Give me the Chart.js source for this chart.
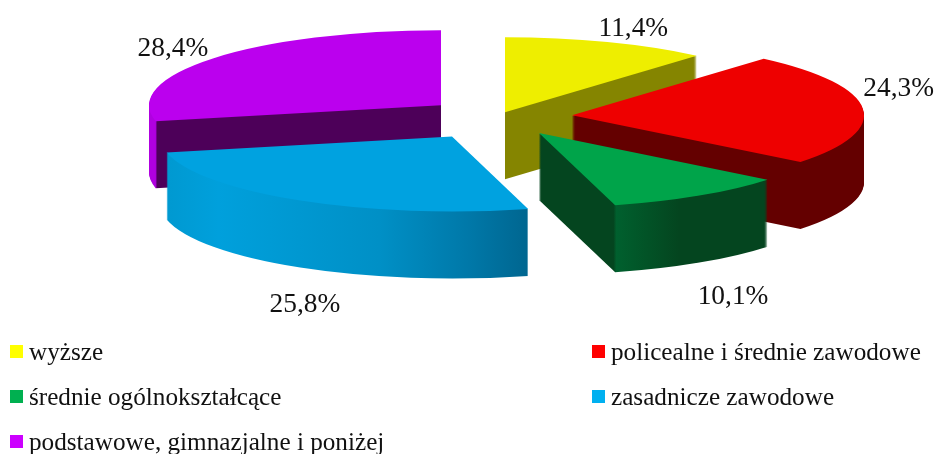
<!DOCTYPE html>
<html lang="pl">
<head>
<meta charset="utf-8">
<title>Wykształcenie</title>
<style>html,body{margin:0;padding:0;background:#fff}canvas{display:block}</style>
<script src="https://cdn.jsdelivr.net/npm/chart.js@4/dist/chart.umd.min.js"></script>
</head>
<body>
<canvas id="c" width="936" height="454"></canvas>
<script>
const categories = ['wyższe','policealne i średnie zawodowe','średnie ogólnokształcące','zasadnicze zawodowe','podstawowe, gimnazjalne i poniżej'];
const shares = [11.4,24.3,10.1,25.8,28.4];
const explode = [0.068,0.254,0.254,0.305,0.25];
const topColors = ['#eeee00','#ee0000','#00a44a','#00a2e0','#bb00ee'];
const legendColors = ['#ffff00','#ff0000','#00b050','#00b0f0','#cc00ff'];
// wall shading, stops given as position across the pie radius (-1..1)
const wallStops = [
  [[-1,'#858500'],[1,'#858500']],
  [[-1,'#640000'],[1,'#640000']],
  [[-1,'#04451f'],[0.255,'#04451f'],[0.265,'#00602e'],[0.48,'#04451f'],[1,'#04451f']],
  [[-1,'#0098cf'],[-0.8,'#00a0dc'],[-0.25,'#0090c6'],[0.06,'#0078a8'],[0.26,'#006690'],[1,'#006690']],
  [[-1,'#b000e0'],[-0.978,'#b000e0'],[-0.972,'#4d0059'],[1,'#4d0059']]
];
const drawOrder = [4,0,1,2,3];
const RX = 292, RY = 75, DEPTH = 67;
const labelNudge = [[26,-13],[36,-20],[34,101],[5,104],[-41,-9]];
const legendSlots = [[10,360],[592,360],[10,405],[592,405],[10,450]];
const fmt = v => v.toFixed(1).replace('.',',') + '%';

const pie3d = {
  id:'pie3d',
  beforeDatasetsDraw(chart){
    const ctx = chart.ctx, arcs = chart.getDatasetMeta(0).data;
    drawOrder.forEach(i=>{
      const a = arcs[i], R = a.outerRadius, sx = RX/R, sy = RY/R;
      const mid = (a.startAngle+a.endAngle)/2;
      const px = Math.round(a.x+Math.cos(mid)*explode[i]*RX);
      const py = a.y+Math.sin(mid)*explode[i]*RY;
      const g = ctx.createLinearGradient(a.x-R,0,a.x+R,0);
      wallStops[i].forEach(([p,c])=>g.addColorStop((p+1)/2,c));
      const paint = (fill,d)=>{
        const clone = Object.create(a);
        clone.options = {backgroundColor:fill,borderColor:fill,borderWidth:0,offset:0,spacing:0,circular:true,borderRadius:0,borderAlign:'center'};
        ctx.save();
        ctx.translate(px,py+d);
        ctx.scale(sx,sy);
        ctx.translate(-a.x,-a.y);
        clone.draw(ctx);
        ctx.restore();
      };
      for(let d=DEPTH;d>0;d--) paint(g,d);
      paint(topColors[i],0);
    });
    return false;
  },
  afterDraw(chart){
    const ctx = chart.ctx, arcs = chart.getDatasetMeta(0).data;
    ctx.save();
    ctx.fillStyle='#111';
    ctx.textAlign='center';ctx.textBaseline='middle';
    ctx.font='27.4px "Liberation Serif"';
    arcs.forEach((a,i)=>{
      const mid=(a.startAngle+a.endAngle)/2, e=1+explode[i];
      const x=a.x+Math.cos(mid)*RX*e, y=a.y+Math.sin(mid)*RY*e;
      ctx.fillText(fmt(shares[i]),x+labelNudge[i][0],y+labelNudge[i][1]);
    });
    ctx.textAlign='left';ctx.textBaseline='alphabetic';
    ctx.font='25.2px "Liberation Serif"';
    categories.forEach((t,i)=>{
      const [x,y]=legendSlots[i];
      ctx.fillStyle=legendColors[i];
      ctx.fillRect(x,y-15,13,13);
      ctx.fillStyle='#111';
      ctx.fillText(t,x+19,y);
    });
    ctx.restore();
  }
};

new Chart(document.getElementById('c'),{
  type:'pie',
  data:{labels:categories,datasets:[{data:shares,backgroundColor:topColors,borderWidth:0}]},
  options:{
    responsive:false,animation:false,
    layout:{padding:{left:60,bottom:220}},
    plugins:{legend:{display:false},tooltip:{enabled:false}}
  },
  plugins:[pie3d]
});
</script>
</body>
</html>
